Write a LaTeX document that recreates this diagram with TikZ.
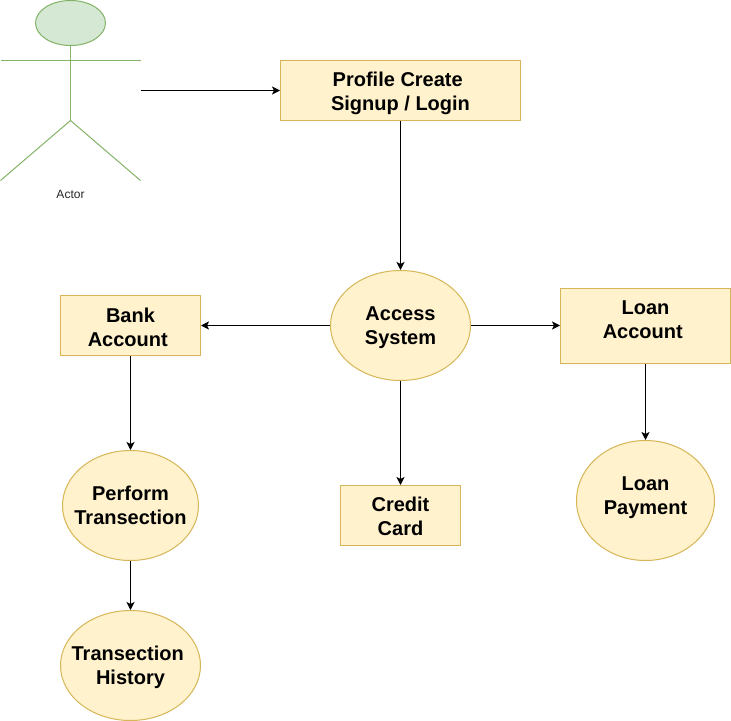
\documentclass[tikz,border=0pt]{standalone}
\usepackage{fontspec}
\setmainfont{Liberation Sans}
\usetikzlibrary{arrows.meta}
\usetikzlibrary{shapes.geometric}
\definecolor{DiagramFill}{RGB}{255,242,204}
\definecolor{DiagramEdge}{RGB}{214,182,86}
\definecolor{ActorFill}{RGB}{213,232,212}
\definecolor{ActorEdge}{RGB}{130,179,102}
\newcommand{\trailgap}{\kern5.5bp}

\begin{document}
\begin{tikzpicture}[x=1bp,y=-1bp,line join=miter]
  \path[use as bounding box] (-0.5,-0.5) rectangle (730.5,720.5);
  \fill[white] (-0.5,-0.5) rectangle (730.5,720.5);

  \tikzset{
    boxtext/.style={align=center,inner sep=-25bp,text=black,text depth=0bp,
      font=\fontsize{20bp}{24bp}\selectfont\bfseries},
    process/.style={boxtext,shape=rectangle,line width=1bp,draw=DiagramEdge,fill=DiagramFill},
    usecase/.style={boxtext,shape=ellipse,line width=1bp,draw=DiagramEdge,fill=DiagramFill},
    flowline/.style={-{Stealth[length=8bp,width=8bp,inset=2bp]},line width=1bp,draw=black},
    actorline/.style={line width=1bp,draw=ActorEdge},
  }

  % Actor
  \node[shape=ellipse,inner sep=0pt,minimum width=70bp,minimum height=45bp,
    line width=1bp,draw=ActorEdge,fill=ActorFill] (actorhead) at (70,22.5) {};
  \coordinate (armleft) at (0,60);
  \coordinate (armright) at (140,60);
  \coordinate (hip) at (70,120);
  \coordinate (footleft) at (0,180);
  \coordinate (footright) at (140,180);
  \coordinate (actorout) at (140,90);
  \draw[actorline] (actorhead.south) -- (hip);
  \draw[actorline] (armleft) -- (armright);
  \draw[actorline] (footleft) -- (hip) -- (footright);
  \node[anchor=base,inner sep=0pt,text=black!85,font=\fontsize{12bp}{12bp}\selectfont] (actorlabel) at (70,198) {Actor};

  % Top row
  \node[process,text height=40bp,minimum width=240bp,minimum height=60bp] (profile) at (400,90) {Profile Create\trailgap\\Signup / Login};

  % Middle row
  \node[usecase,text height=38bp,minimum width=140bp,minimum height=110bp] (access) at (400,325) {Access\\System};
  \node[process,text height=42bp,minimum width=140bp,minimum height=60bp] (bank) at (130,325) {Bank\\Account\trailgap};
  \node[process,text height=26bp,minimum width=170bp,minimum height=75bp] (loan) at (645,325) {Loan\\Account\trailgap};

  % Lower rows
  \node[usecase,text height=38bp,minimum width=136bp,minimum height=110bp] (perform) at (130,505) {Perform\\Transection};
  \node[process,text height=40bp,minimum width=120bp,minimum height=60bp] (credit) at (400,515) {Credit\\Card};
  \node[usecase,text height=28bp,minimum width=138bp,minimum height=120bp] (payment) at (645,500) {Loan\\Payment};
  \node[usecase,text height=38bp,minimum width=140bp,minimum height=110bp] (history) at (130,665) {Transection\trailgap\\History};

  % Connectors
  \draw[flowline] (actorout) -- (profile.west |- actorout);
  \draw[flowline] (profile.south) -- (access.north);
  \draw[flowline] (access.west) -- (bank.east);
  \draw[flowline] (access.east) -- (loan.west);
  \draw[flowline] (access.south) -- (credit.north);
  \draw[flowline] (bank.south) -- (perform.north);
  \draw[flowline] (perform.south) -- (history.north);
  \draw[flowline] (loan.south) -- (payment.north);

\end{tikzpicture}
\end{document}
